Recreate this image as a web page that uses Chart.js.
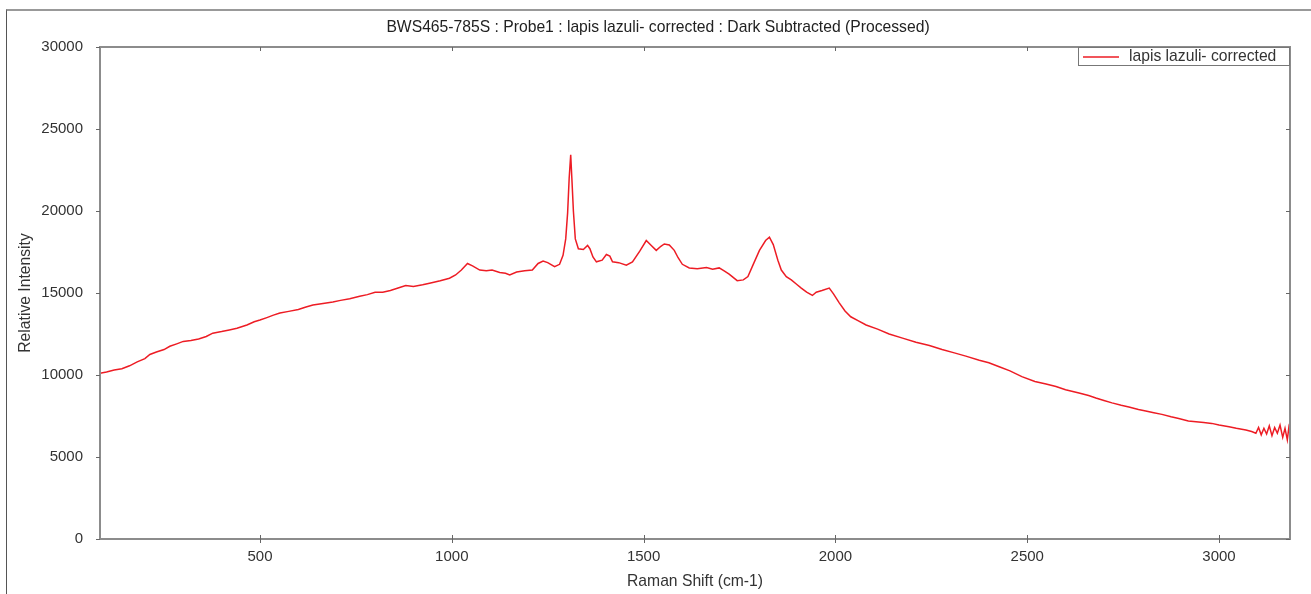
<!DOCTYPE html>
<html lang="en">
<head>
  <meta charset="UTF-8">
  <title>BWS465-785S : Probe1 : lapis lazuli- corrected</title>
  <script src="https://cdn.jsdelivr.net/npm/chart.js"></script>
  <style>
    body {
      margin: 0;
      padding: 0;
      background: #fff;
      font-family: "Liberation Sans", Arial, sans-serif;
    }
    #wrap {
      position: relative;
      width: 1311px;
      height: 594px;
    }
    /* frame of the screenshot window */
    #frame {
      position: absolute;
      left: 6px;
      top: 9px;
      right: 0;
      bottom: 0;
      border-left: 1px solid #555;
      border-top: 2px solid #999;
      pointer-events: none;
    }
  </style>
</head>
<body>
  <div id="wrap">
    <canvas id="chart" width="1311" height="594"></canvas>
    <div id="frame"></div>
  </div>

  <script>
    const titleText = "BWS465-785S : Probe1 : lapis lazuli- corrected : Dark Subtracted (Processed)";
    const seriesName = "lapis lazuli- corrected";

    // Raman shift (cm-1)
    const ramanShift = [
      83, 100, 120, 140, 160, 180, 200, 213, 230, 250, 265, 283, 300, 320, 340, 360, 377, 400, 420, 440,
      466, 485, 500, 518, 535, 552, 575, 600, 620, 638, 660, 690, 710, 734, 760, 780, 800, 820, 840, 860,
      880, 900, 924, 942, 970, 994, 1010, 1025, 1041, 1054, 1073, 1090, 1105, 1125, 1140, 1151, 1169, 1190, 1210, 1225,
      1238, 1250, 1268, 1281, 1290, 1297, 1302, 1306, 1310, 1313, 1317, 1322, 1330, 1343, 1354, 1360, 1368, 1377, 1392, 1403,
      1412, 1419, 1435, 1455, 1471, 1490, 1507, 1520, 1533, 1545, 1554, 1567, 1580, 1590, 1601, 1619, 1640, 1664, 1680, 1697,
      1710, 1723, 1744, 1760, 1772, 1785, 1802, 1818, 1828, 1838, 1850, 1859, 1872, 1885, 1898, 1911, 1925, 1940, 1950, 1965,
      1984, 1995, 2010, 2025, 2040, 2060, 2080, 2110, 2140, 2175, 2210, 2245, 2278, 2310, 2340, 2375, 2400, 2427, 2455, 2486,
      2520, 2549, 2575, 2600, 2635, 2660, 2679, 2700, 2721, 2745, 2765, 2790, 2809, 2830, 2851, 2875, 2895, 2920, 2940, 2960,
      2981, 3000, 3026, 3045, 3070, 3085, 3096, 3103, 3110, 3117, 3124, 3131, 3138, 3145, 3152, 3159, 3166, 3172, 3178, 3182,
      3185
    ];

    // relative intensity at each shift
    const intensity = [
      10100, 10180, 10300, 10380, 10560, 10800, 11000, 11250, 11400, 11550, 11750, 11900, 12050, 12100, 12200, 12350, 12550, 12650, 12750, 12850,
      13050, 13250, 13350, 13500, 13650, 13780, 13880, 14000, 14150, 14270, 14350, 14450, 14550, 14650, 14800, 14900, 15050, 15050, 15150, 15300,
      15450, 15400, 15500, 15600, 15750, 15900, 16100, 16400, 16800, 16650, 16400, 16350, 16400, 16250, 16200, 16100, 16280, 16350, 16400, 16800,
      16950, 16850, 16600, 16750, 17300, 18300, 19900, 22000, 23420, 22000, 20000, 18300, 17700, 17650, 17900, 17700, 17200, 16900, 17000, 17350,
      17250, 16900, 16850, 16700, 16900, 17550, 18200, 17900, 17600, 17850, 17990, 17930, 17600, 17150, 16750, 16530, 16480, 16550, 16450, 16530,
      16350, 16150, 15750, 15800, 16000, 16700, 17600, 18200, 18400, 17950, 17000, 16400, 16000, 15800, 15550, 15300, 15050, 14850, 15050, 15150,
      15300, 14950, 14400, 13900, 13550, 13300, 13050, 12800, 12500, 12250, 12000, 11800, 11550, 11350, 11150, 10900, 10750, 10500, 10250, 9900,
      9600, 9450, 9300, 9100, 8900, 8750, 8600, 8450, 8300, 8150, 8050, 7900, 7800, 7700, 7600, 7450, 7350, 7200, 7150, 7100,
      7050, 6950, 6850, 6750, 6650, 6550, 6450, 6800, 6350, 6750, 6400, 6900, 6300, 6800, 6450, 6950, 6200, 6750, 6050, 6800,
      6500
    ];

    const xTicks = [500, 1000, 1500, 2000, 2500, 3000];
    const yTicks = [0, 5000, 10000, 15000, 20000, 25000, 30000];
    const xMin = 83, xMax = 3185;

    const lineColor = "rgb(237, 28, 36)";
    const axisColor = "#8c8c8c";
    const textColor = "#333";
    const textFont = "'Liberation Sans', Arial, sans-serif";

    // title, box around the plot, mirrored ticks and the legend
    const framePlugin = {
      id: "framePlugin",
      afterDraw(chart) {
        const { ctx, chartArea: a, scales } = chart;
        ctx.save();

        ctx.fillStyle = "#222";
        ctx.font = "15.7px " + textFont;
        ctx.textAlign = "center";
        ctx.textBaseline = "middle";
        ctx.fillText(titleText, 658, 28);

        ctx.strokeStyle = axisColor;
        ctx.lineWidth = 2;
        ctx.strokeRect(a.left, a.top, a.right - a.left, a.bottom - a.top);

        ctx.lineWidth = 1;
        ctx.strokeStyle = "#666";
        ctx.beginPath();
        xTicks.forEach(v => {
          const px = Math.round(scales.x.getPixelForValue(v)) + 0.5;
          ctx.moveTo(px, a.bottom - 4); ctx.lineTo(px, a.bottom + 4);
          ctx.moveTo(px, a.top); ctx.lineTo(px, a.top + 4);
        });
        yTicks.forEach(v => {
          const py = Math.round(scales.y.getPixelForValue(v)) + 0.5;
          ctx.moveTo(a.left - 4, py); ctx.lineTo(a.left, py);
          ctx.moveTo(a.right - 4, py); ctx.lineTo(a.right, py);
        });
        ctx.stroke();

        // legend box, top right inside the plot
        const boxW = 212, boxH = 18;
        const bx = a.right - boxW, by = a.top;
        ctx.fillStyle = "#fff";
        ctx.fillRect(bx, by, boxW, boxH);
        ctx.strokeStyle = "#777";
        ctx.lineWidth = 1;
        ctx.strokeRect(bx + 0.5, by + 0.5, boxW - 1, boxH);
        ctx.strokeStyle = lineColor;
        ctx.lineWidth = 1.5;
        ctx.beginPath();
        ctx.moveTo(bx + 5, by + 10); ctx.lineTo(bx + 41, by + 10);
        ctx.stroke();
        ctx.fillStyle = textColor;
        ctx.font = "15.7px " + textFont;
        ctx.textAlign = "left";
        ctx.fillText(seriesName, bx + 51, by + 10);
        ctx.restore();
      }
    };

    new Chart(document.getElementById("chart"), {
      type: "line",
      data: {
        datasets: [{
          label: seriesName,
          data: ramanShift.map((x, i) => ({ x, y: intensity[i] })),
          borderColor: lineColor,
          borderWidth: 1.5,
          pointRadius: 0,
          tension: 0,
          fill: false,
        }],
      },
      options: {
        responsive: false,
        animation: false,
        events: [],
        layout: { padding: { left: 0, right: 21, top: 47, bottom: 0 } },
        plugins: {
          legend: { display: false },
          tooltip: { enabled: false },
          title: { display: false },
        },
        scales: {
          x: {
            type: "linear",
            min: xMin,
            max: xMax,
            afterBuildTicks: s => { s.ticks = xTicks.map(v => ({ value: v })); },
            afterFit: s => { s.height = 55; },
            grid: { display: false },
            border: { display: false },
            ticks: {
              color: textColor,
              padding: 1,
              maxRotation: 0,
              font: { family: textFont, size: 15 },
              callback: v => String(v),
            },
            title: {
              display: true,
              text: "Raman Shift (cm-1)",
              color: textColor,
              font: { family: textFont, size: 15.7 },
              padding: { top: 0, bottom: 3 },
            },
          },
          y: {
            min: 0,
            max: 30000,
            afterBuildTicks: s => { s.ticks = yTicks.map(v => ({ value: v })); },
            afterFit: s => { s.width = 100; },
            grid: { display: false },
            border: { display: false },
            ticks: {
              color: textColor,
              padding: 9,
              font: { family: textFont, size: 15 },
              callback: v => String(v),
            },
            title: {
              display: true,
              text: "Relative Intensity",
              color: textColor,
              font: { family: textFont, size: 15.7 },
              padding: { top: 16, bottom: 0 },
            },
          },
        },
      },
      plugins: [framePlugin],
    });
  </script>
</body>
</html>
